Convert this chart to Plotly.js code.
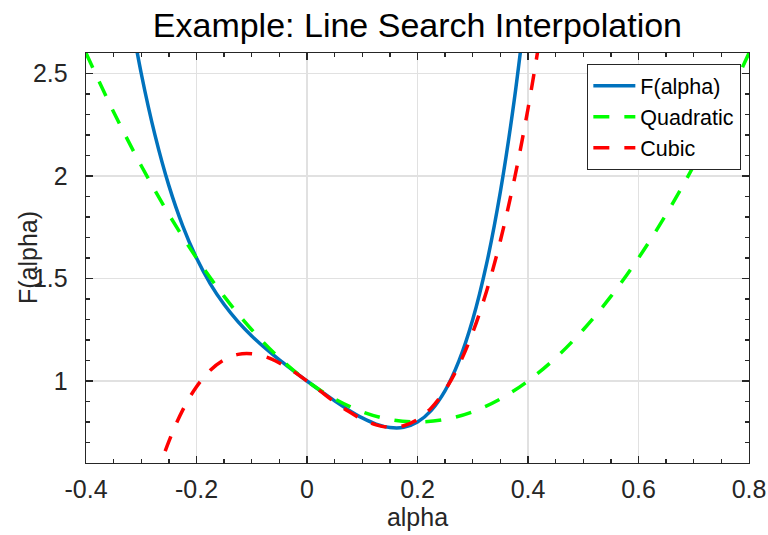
<!DOCTYPE html>
<html>
<head>
<meta charset="utf-8">
<script src="https://cdn.plot.ly/plotly-3.0.1.min.js"></script>
<style>html,body{margin:0;padding:0;background:#fff;}#chart{width:768px;height:535px;}</style>
</head>
<body>
<div id="chart"></div>
<script>
// F(alpha)
const alphaF = [-0.325,-0.3,-0.275,-0.25,-0.225,-0.2,-0.175,-0.15,-0.125,-0.1,-0.075,-0.05,-0.025,0,0.025,0.05,0.075,0.1,0.125,0.15,0.175,0.2,0.225,0.25,0.275,0.3,0.325,0.35,0.375,0.4];
const valF = [2.871,2.50,2.198,1.953,1.757,1.600,1.474,1.373,1.290,1.220,1.159,1.103,1.051,1.000,0.951,0.903,0.859,0.820,0.790,0.773,0.774,0.800,0.857,0.953,1.098,1.300,1.571,1.923,2.368,2.920];

// Quadratic interpolation
const alphaQ = [-0.4,-0.35,-0.3,-0.25,-0.2,-0.15,-0.1,-0.05,0,0.05,0.1,0.15,0.2,0.25,0.3,0.35,0.4,0.45,0.5,0.55,0.6,0.65,0.7,0.75,0.8];
const valQ = [2.6,2.3125,2.05,1.8125,1.6,1.4125,1.25,1.1125,1.0,0.9125,0.85,0.8125,0.8,0.8125,0.85,0.9125,1.0,1.1125,1.25,1.4125,1.6,1.8125,2.05,2.3125,2.6];

// Cubic interpolation
const alphaC = [-0.275,-0.25,-0.225,-0.2,-0.175,-0.15,-0.125,-0.1,-0.075,-0.05,-0.025,0,0.025,0.05,0.075,0.1,0.125,0.15,0.175,0.2,0.225,0.25,0.275,0.3,0.325,0.35,0.375,0.4,0.425];
const valC = [0.514,0.706,0.858,0.972,1.053,1.104,1.130,1.133,1.118,1.088,1.048,1.000,0.949,0.898,0.852,0.813,0.786,0.774,0.782,0.812,0.869,0.956,1.078,1.237,1.438,1.684,1.980,2.328,2.733];

const xTicks = [-0.4,-0.2,0,0.2,0.4,0.6,0.8];
const xTickText = ['-0.4','-0.2','0','0.2','0.4','0.6','0.8'];
const yTicks = [1,1.5,2,2.5];
const yTickText = ['1','1.5','2','2.5'];

const font = 'Liberation Sans, Arial, Helvetica, sans-serif';
const axisCol = '#262626';

const traces = [
  {x: alphaF, y: valF, type: 'scatter', mode: 'lines', name: 'F(alpha)',
   line: {color: '#0072BD', width: 3.5, shape: 'spline'}},
  {x: alphaQ, y: valQ, type: 'scatter', mode: 'lines', name: 'Quadratic',
   line: {color: '#00FF00', width: 3.5, dash: '16px,15px', shape: 'spline'}},
  {x: alphaC, y: valC, type: 'scatter', mode: 'lines', name: 'Cubic',
   line: {color: '#FF0000', width: 3.5, dash: '16px,15px', shape: 'spline'}}
];

const axisCommon = {
  showline: true, linecolor: axisCol, linewidth: 1.3, mirror: 'ticks',
  ticks: 'inside', ticklen: 7, tickwidth: 1.3, tickcolor: axisCol,
  showgrid: true, gridcolor: '#e1e1e1', gridwidth: 1.2,
  zeroline: false,
  tickfont: {family: font, size: 25, color: axisCol},
  tickmode: 'array'
};

const layout = {
  width: 768, height: 535,
  margin: {l: 86, r: 19, t: 53, b: 72, pad: 0},
  paper_bgcolor: '#ffffff', plot_bgcolor: '#ffffff',
  title: {text: 'Example: Line Search Interpolation', font: {family: font, size: 34, color: '#000'},
          x: 0.5435, xanchor: 'center', y: 0.953, yanchor: 'middle'},
  xaxis: Object.assign({}, axisCommon, {
    range: [-0.4, 0.8], tickvals: xTicks, ticktext: xTickText, ticklabelstandoff: 4,
    minor: {dtick: 0.05, tick0: 0, ticks: 'inside', ticklen: 4, tickwidth: 1.3, tickcolor: axisCol, showgrid: false},
    title: {text: 'alpha', font: {family: font, size: 25, color: axisCol}, standoff: 0}
  }),
  yaxis: Object.assign({}, axisCommon, {
    range: [0.6, 2.6], tickvals: yTicks, ticktext: yTickText, ticklabelstandoff: 12,
    minor: {dtick: 0.1, tick0: 0, ticks: 'inside', ticklen: 4, tickwidth: 1.3, tickcolor: axisCol, showgrid: false}
  }),
  annotations: [{
    text: 'F(alpha)', xref: 'paper', yref: 'paper', x: 0, y: 0.5,
    xanchor: 'center', yanchor: 'middle', xshift: -58, textangle: -90, showarrow: false,
    font: {family: font, size: 25, color: axisCol}
  }],
  showlegend: true,
  legend: {x: 0.988, xanchor: 'right', y: 0.973, yanchor: 'top',
           bgcolor: '#ffffff', bordercolor: axisCol, borderwidth: 1.3, itemwidth: 42,
           font: {family: font, size: 21.5, color: '#000'}, tracegroupgap: 0}
};

Plotly.newPlot('chart', traces, layout, {displayModeBar: false, staticPlot: true});
</script>
</body>
</html>
